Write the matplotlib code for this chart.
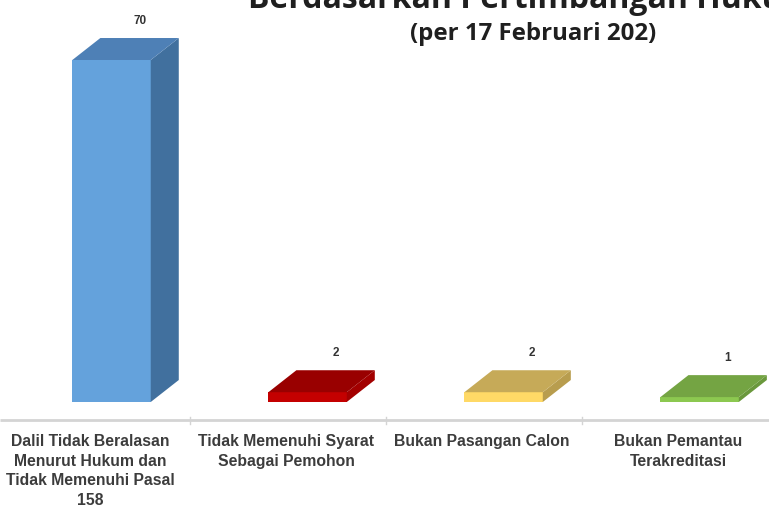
import matplotlib
matplotlib.use("Agg")
from matplotlib import pyplot as plt
from matplotlib.patches import Polygon

categories = ['Dalil Tidak Beralasan\nMenurut Hukum dan\nTidak Memenuhi Pasal\n158',
              'Tidak Memenuhi Syarat\nSebagai Pemohon',
              'Bukan Pasangan Calon',
              'Bukan Pemantau\nTerakreditasi']
values = [70, 2, 2, 1]
value_labels = ['70', '2', '2', '1']
front_colors = ['#64A2DC', '#C40000', '#FFD966', '#8CC850']
top_colors = ['#4E80B6', '#990000', '#C6AA58', '#74A443']
side_colors = ['#41709E', '#A30000', '#B89D4E', '#6A983C']

title = 'Berdasarkan Pertimbangan Hukum'
subtitle = '(per 17 Februari 202)'

# layout in data units
bar_left = -0.10
bar_width = 0.40
depth_x = 0.143
depth_y = 4.5
axis_y = -3.7


def draw_bar(ax, i, v, front, top, side):
    x0 = i + bar_left
    x1 = x0 + bar_width
    ax.add_patch(Polygon([(x0, 0), (x1, 0), (x1, v), (x0, v)], closed=True,
                         facecolor=front, edgecolor='none'))
    ax.add_patch(Polygon([(x1, 0), (x1 + depth_x, depth_y), (x1 + depth_x, v + depth_y), (x1, v)],
                         closed=True, facecolor=side, edgecolor='none'))
    ax.add_patch(Polygon([(x0, v), (x1, v), (x1 + depth_x, v + depth_y), (x0 + depth_x, v + depth_y)],
                         closed=True, facecolor=top, edgecolor='none'))


def main():
    fig = plt.figure(figsize=(7.69, 5.13), dpi=100)
    ax = fig.add_axes([0, 0, 1, 1])
    ax.set_xlim(-0.469, 3.454)
    ax.set_ylim(-22.72, 82.28)
    ax.axis('off')

    for i, v in enumerate(values):
        draw_bar(ax, i, v, front_colors[i], top_colors[i], side_colors[i])
        cx = i + bar_left + bar_width / 2 + depth_x
        ax.annotate(value_labels[i], (cx, v + depth_y), xytext=(0, 8), textcoords='offset points',
                    ha='center', va='bottom', fontsize=8.5, fontweight='bold', color='#333333',
                    family='Liberation Sans')

    # category axis
    ax.plot([-0.469, 3.454], [axis_y, axis_y], color='#D4D4D4', lw=2, solid_capstyle='butt')
    for i in range(len(categories) - 1):
        ax.plot([i + 0.5, i + 0.5], [axis_y + 0.6, axis_y - 0.9], color='#D4D4D4', lw=1)

    for i, cat in enumerate(categories):
        ax.text(i - 0.01, axis_y - 2.9, cat, ha='center', va='top', fontsize=11.3, fontweight='bold',
                color='#3C3C3C', family='Liberation Sans', linespacing=1.38)

    fig.text(248 / 769, 1 - 8 / 513, title, ha='left', va='baseline', fontsize=23,
             fontweight='bold', color='#1F1F1F', family='Open Sans')
    fig.text(533 / 769, 1 - 40 / 513, subtitle, ha='center', va='baseline', fontsize=17.3,
             fontweight='bold', color='#1F1F1F', family='Open Sans')

    fig.savefig('out.png', dpi=100)


if __name__ == "__main__":
    main()
